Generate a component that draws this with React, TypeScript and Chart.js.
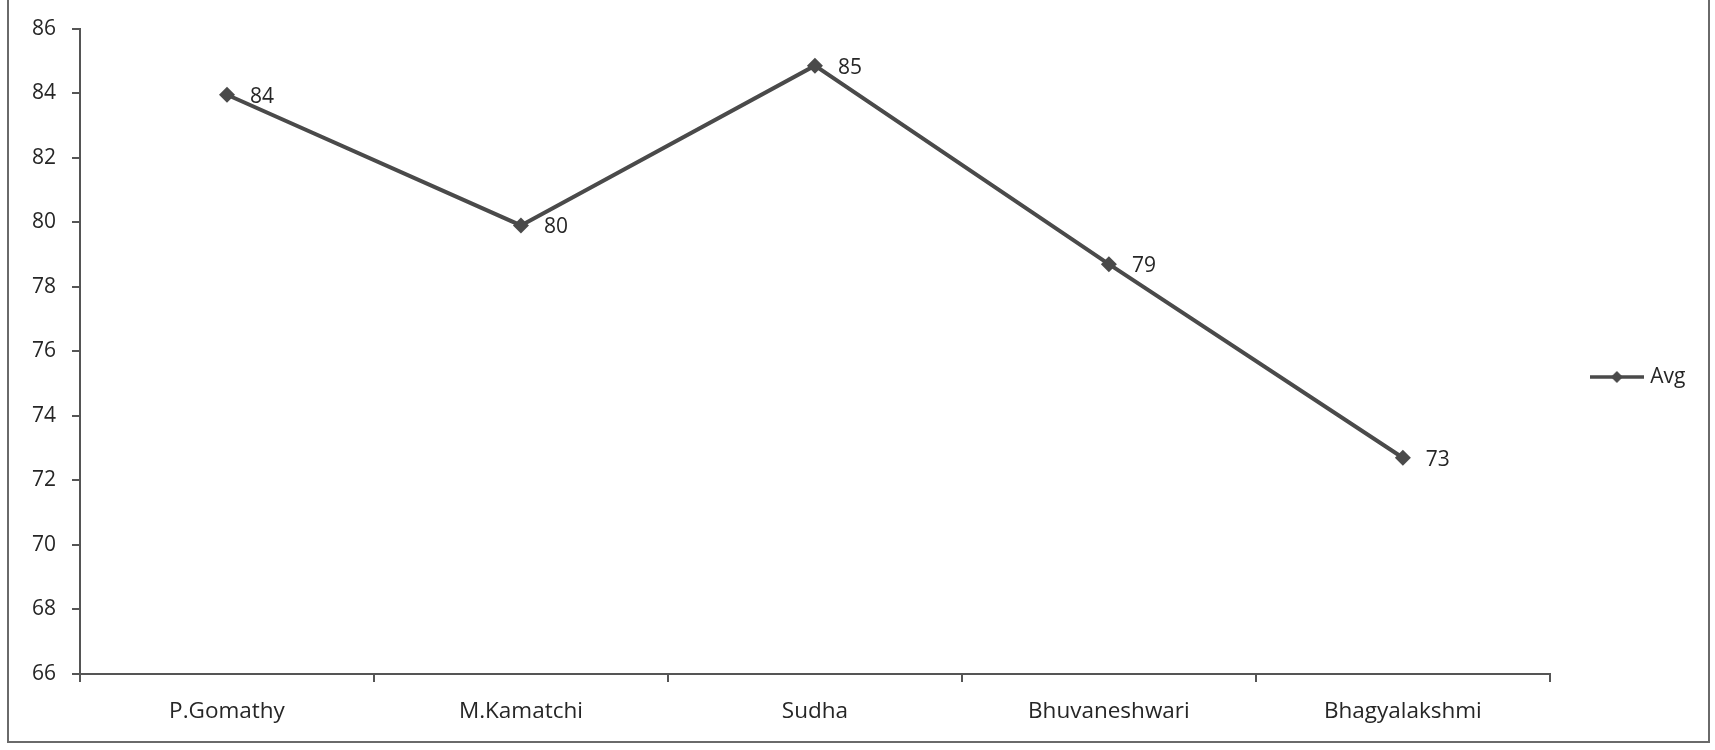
import React, { useEffect, useRef } from "react";
import { Chart, registerables } from "chart.js";

Chart.register(...registerables);

const categories = ["P.Gomathy", "M.Kamatchi", "Sudha", "Bhuvaneshwari", "Bhagyalakshmi"];
const avgValues = [83.95, 79.9, 84.85, 78.7, 72.7];
const avgLabels = ["84", "80", "85", "79", "73"];
const seriesName = "Avg";
const yMin = 66;
const yMax = 86;
const yStep = 2;

const LINE = "#4a4a4a";
const AXIS = "#555555";
const TEXT = "#262626";
const FONT = "'Open Sans', 'Liberation Sans', sans-serif";

export default function App() {
  const ref = useRef<HTMLCanvasElement | null>(null);

  useEffect(() => {
    if (!ref.current) return;

    const img = document.createElement("canvas");
    img.width = 54;
    img.height = 16;
    const c = img.getContext("2d")!;
    c.strokeStyle = LINE;
    c.lineWidth = 3.5;
    c.beginPath();
    c.moveTo(0, 8);
    c.lineTo(54, 8);
    c.stroke();
    c.fillStyle = LINE;
    c.beginPath();
    c.moveTo(27, 2);
    c.lineTo(33, 8);
    c.lineTo(27, 14);
    c.lineTo(21, 8);
    c.closePath();
    c.fill();

    const framePlugin = {
      id: "frame",
      beforeDraw(chart: any) {
        const ctx = chart.ctx;
        ctx.save();
        ctx.fillStyle = "#ffffff";
        ctx.fillRect(0, 0, chart.width, chart.height);
        ctx.strokeStyle = "#6a6a6a";
        ctx.lineWidth = 2;
        ctx.strokeRect(8, -5, 1701, 747);
        ctx.restore();
      },
    };

    const labelPlugin = {
      id: "pointLabels",
      afterDatasetsDraw(chart: any) {
        const ctx = chart.ctx;
        const meta = chart.getDatasetMeta(0);
        ctx.save();
        ctx.font = `21px ${FONT}`;
        ctx.fillStyle = TEXT;
        ctx.textAlign = "left";
        ctx.textBaseline = "middle";
        meta.data.forEach((pt: any, i: number) => {
          ctx.fillText(avgLabels[i], pt.x + 23, pt.y + 2);
        });
        ctx.restore();
      },
    };

    const chart = new Chart(ref.current, {
      type: "line",
      data: {
        labels: categories,
        datasets: [
          {
            label: seriesName,
            data: avgValues,
            borderColor: LINE,
            backgroundColor: LINE,
            borderWidth: 4,
            pointStyle: "rectRot",
            pointRadius: 8,
            pointBackgroundColor: LINE,
            pointBorderColor: LINE,
            pointBorderWidth: 0,
            tension: 0,
          },
        ],
      },
      options: {
        animation: false,
        responsive: false,
        maintainAspectRatio: false,
        layout: { padding: { top: 21, left: 0, bottom: 0, right: 19.5 } },
        plugins: {
          tooltip: { enabled: false },
          legend: {
            display: true,
            position: "right",
            align: "start",
            title: { display: true, text: " ", font: { size: 10 }, padding: { top: 289.5, bottom: 0 } },
            labels: {
              usePointStyle: true,
              pointStyleWidth: 46,
              padding: 44,
              color: TEXT,
              font: { family: FONT, size: 21 },
              generateLabels: () => [
                {
                  text: seriesName,
                  pointStyle: img as any,
                  fillStyle: LINE,
                  strokeStyle: LINE,
                  fontColor: TEXT,
                  lineWidth: 0,
                  hidden: false,
                  datasetIndex: 0,
                } as any,
              ],
            },
          },
        },
        scales: {
          x: {
            type: "category",
            offset: true,
            afterFit: (s: any) => {
              s.height = 76;
            },
            grid: {
              display: true,
              drawOnChartArea: false,
              drawTicks: true,
              tickLength: 8,
              offset: true,
              color: AXIS,
              lineWidth: 2,
            },
            border: { display: true, color: AXIS, width: 2 },
            ticks: { color: TEXT, font: { family: FONT, size: 22.5 }, padding: 16, maxRotation: 0 },
          },
          y: {
            min: yMin,
            max: yMax,
            afterFit: (s: any) => {
              s.width = 80;
            },
            grid: {
              display: true,
              drawOnChartArea: false,
              drawTicks: true,
              tickLength: 8,
              color: AXIS,
              lineWidth: 2,
            },
            border: { display: true, color: AXIS, width: 2 },
            ticks: { stepSize: yStep, color: TEXT, font: { family: FONT, size: 21 }, padding: 16 },
          },
        },
      },
      plugins: [framePlugin, labelPlugin],
    });

    return () => chart.destroy();
  }, []);

  return (
    <div style={{ position: "absolute", left: 0, top: 0, width: 1715, height: 750 }}>
      <canvas ref={ref} width={1715} height={750} style={{ width: 1715, height: 750, display: "block" }} />
    </div>
  );
}
